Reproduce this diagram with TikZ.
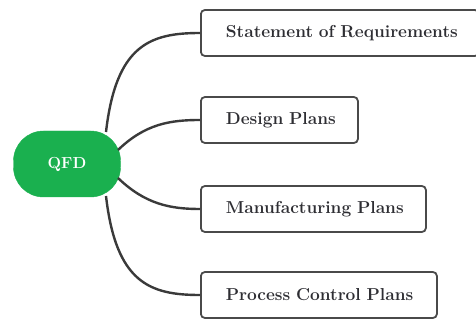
\documentclass[tikz,border=0pt]{standalone}
\usepackage{fontspec}
\begin{document}
\begin{tikzpicture}[x=1pt,y=-1pt,
  rootnode/.style={fill=qfdgreen,draw=qfdgreen,rounded corners=30pt,minimum width=107pt,minimum height=66pt,text=white,font=\bfseries\fontsize{16}{19}\selectfont},
  leaf/.style={draw=boxline,line width=1.8pt,rounded corners=4pt,fill=white,minimum height=46pt,text=labeltext,font=\bfseries\fontsize{17.3}{20}\selectfont,anchor=west,inner xsep=0pt,align=left},
  branch/.style={draw=linecol,line width=2.4pt}]
\definecolor{qfdgreen}{HTML}{1AB04F}
\definecolor{boxline}{HTML}{4A4A4A}
\definecolor{labeltext}{HTML}{2E2E33}
\definecolor{linecol}{HTML}{3A3A3A}
\useasboundingbox (0,0) rectangle (476,320);
\clip (0,0) rectangle (476,320);
\node[rootnode] (qfd) at (67,164) {QFD};
\node[leaf,text width=278pt] (sor) at (200,33) {\hspace*{25pt}Statement of Requirements};
\node[leaf,text width=157pt] (dp) at (200,120) {\hspace*{25pt}Design Plans};
\node[leaf,text width=225pt] (mp) at (200,209) {\hspace*{25pt}Manufacturing Plans};
\node[leaf,text width=236pt] (pcp) at (200,295) {\hspace*{25pt}Process Control Plans};
\coordinate (a1) at (106,132);
\coordinate (a2) at (118,150);
\coordinate (a3) at (118,178);
\coordinate (a4) at (106,196);
\draw[branch] (a1) .. controls (116,45) and (150,33) .. (sor.west);
\draw[branch] (a2) .. controls (145,124) and (170,120) .. (dp.west);
\draw[branch] (a3) .. controls (145,204) and (170,209) .. (mp.west);
\draw[branch] (a4) .. controls (116,283) and (150,295) .. (pcp.west);
\end{tikzpicture}
\end{document}
